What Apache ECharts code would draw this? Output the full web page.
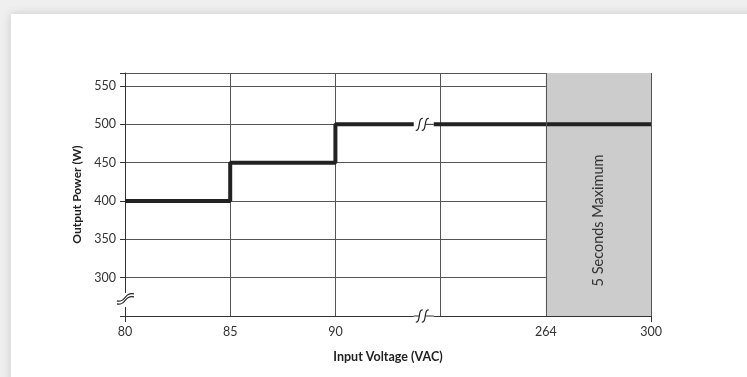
<!DOCTYPE html>
<html>
<head>
<meta charset="utf-8">
<script src="https://cdn.jsdelivr.net/npm/echarts@6/dist/echarts.min.js"></script>
<style>
  html, body { margin:0; padding:0; width:747px; height:377px; background:#efefef; overflow:hidden; }
  #card { position:absolute; left:11px; top:14px; width:760px; height:400px; background:#fff; box-shadow:0 0 9px rgba(0,0,0,0.16); }
  #chart { position:absolute; left:0; top:0; width:747px; height:377px; }
</style>
</head>
<body>
<div id="card"></div>
<div id="chart"></div>
<script>
// ---- data ----
const categories = ['80', '85', '90', '', '264', '300'];
const outputPower = [400, 450, 500, 500, 500, 500];
const yTickLabels = [300, 350, 400, 450, 500, 550];
const bandFrom = '264';
const bandTo = '300';
const bandLabel = '5 Seconds Maximum';
const xTitle = 'Input Voltage (VAC)';
const yTitle = 'Output Power (W)';
// break markers (data units): horizontal-line breaks between category 2 and 3, y-axis break
const hBreakValues = [250, 500];
const yBreakValue = 271;

const FONT = 'Lato, "Open Sans", sans-serif';
const chart = echarts.init(document.getElementById('chart'), null, { renderer: 'canvas' });

function sCurve(x1, y1, x2, y2, cx1, cy1, cx2, cy2, w) {
  return { type: 'bezierCurve', shape: { x1, y1, x2, y2, cpx1: cx1, cpy1: cy1, cpx2: cx2, cpy2: cy2 },
           style: { stroke: '#222', lineWidth: w || 1.1, fill: null } };
}

const option = {
  animation: false,
  grid: { left: 125, right: 96, top: 73, bottom: 61, containLabel: false },
  xAxis: {
    type: 'category',
    data: categories,
    boundaryGap: false,
    axisLine: { show: true, lineStyle: { color: '#333', width: 1 } },
    axisTick: { show: true, length: 6, lineStyle: { color: '#333' },
      interval: function (i) { return i === 0 || i === categories.length - 1; } },
    axisLabel: { color: '#333', fontSize: 12.5, fontFamily: FONT, margin: 9 },
    splitLine: { show: true, lineStyle: { color: '#555', width: 1 } },
    name: xTitle, nameLocation: 'middle', nameGap: 34,
    nameTextStyle: { color: '#222', fontSize: 12.5, fontWeight: 'bold', fontFamily: FONT }
  },
  yAxis: {
    type: 'value',
    min: 250, max: 567, interval: 50,
    axisLine: { show: true, lineStyle: { color: '#333', width: 1 } },
    axisTick: { show: true, length: 5, lineStyle: { color: '#333' } },
    axisLabel: { color: '#333', fontSize: 12.5, fontFamily: FONT, margin: 9,
      formatter: function (v) { return yTickLabels.indexOf(v) >= 0 ? String(v) : ''; } },
    splitLine: { show: true, lineStyle: { color: '#555', width: 1 } },
    name: yTitle, nameLocation: 'middle', nameGap: 42,
    nameTextStyle: { color: '#222', fontSize: 12, fontWeight: 'bold', fontFamily: FONT }
  },
  series: [
    {
      type: 'line', data: [], z: 1, silent: true,
      markArea: {
        silent: true,
        itemStyle: { color: '#cccccc', opacity: 1 },
        label: { show: true, position: 'inside', rotate: 90, offset: [-26, 0],
          color: '#333', fontSize: 14.5, fontFamily: FONT, formatter: bandLabel },
        data: [[{ xAxis: bandFrom }, { xAxis: bandTo }]]
      },
      markLine: {
        silent: true, symbol: ['none', 'none'],
        label: { show: false },
        lineStyle: { color: '#555', width: 1, type: 'solid' },
        data: [{ xAxis: bandFrom }, { xAxis: bandTo }]
      }
    },
    {
      type: 'line', z: 3,
      data: outputPower,
      step: 'end',
      showSymbol: false,
      lineStyle: { color: '#222', width: 4 },
      silent: true
    },
    {
      type: 'custom', z: 5, silent: true,
      data: hBreakValues.map(v => [v]),
      renderItem: function (params, api) {
        const yv = api.value(0);
        const p2 = api.coord([2, yv]);
        const p3 = api.coord([3, yv]);
        const cx = p2[0] + 0.84 * (p3[0] - p2[0]);
        const cy = p2[1];
        const thick = yv !== 250;
        const children = [
          { type: 'rect', shape: { x: cx - 10, y: cy - 4, width: 20, height: 8 }, style: { fill: '#fff' } },
          { type: 'line', shape: { x1: cx + 2, y1: cy, x2: cx + 10, y2: cy }, style: { stroke: '#333', lineWidth: 1 } },
          { type: 'line', shape: { x1: cx - 10, y1: cy, x2: cx - 4, y2: cy }, style: { stroke: '#333', lineWidth: thick ? 0 : 1 } },
          sCurve(cx - 8, cy + 6, cx - 1, cy - 6, cx - 3, cy + 7, cx - 6, cy - 7, 1.2),
          sCurve(cx - 2, cy + 6, cx + 5, cy - 6, cx + 3, cy + 7, cx, cy - 7, 1.2)
        ];
        return { type: 'group', children };
      }
    },
    {
      type: 'custom', z: 5, silent: true,
      data: [[yBreakValue]],
      renderItem: function (params, api) {
        const p = api.coord([0, api.value(0)]);
        const cx = p[0], cy = p[1];
        return { type: 'group', children: [
          { type: 'rect', shape: { x: cx - 3, y: cy - 7, width: 6, height: 14 }, style: { fill: '#fff' } },
          sCurve(cx - 8, cy + 4, cx + 9, cy - 3, cx + 1, cy + 6, cx - 1, cy - 5, 1.1),
          sCurve(cx - 8, cy + 1, cx + 9, cy - 6, cx + 1, cy + 3, cx - 1, cy - 8, 1.1)
        ] };
      }
    }
  ]
};
chart.setOption(option);
</script>
</body>
</html>
